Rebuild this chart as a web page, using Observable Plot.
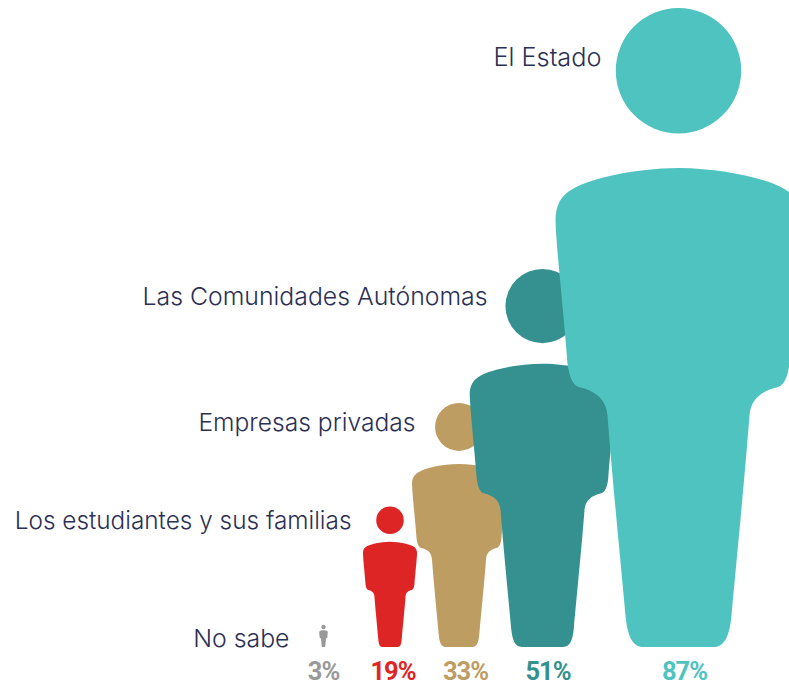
<!DOCTYPE html>
<html><head><meta charset="utf-8">
<script src="https://cdn.jsdelivr.net/npm/d3@7"></script>
<script src="https://cdn.jsdelivr.net/npm/@observablehq/plot@0.6"></script>
<style>html,body{margin:0;padding:0;background:#fff;overflow:hidden}svg{display:block}.pct text{letter-spacing:-1.1px}</style>
</head><body><div id="chart"></div>
<script>
const categories = ["No sabe","Los estudiantes y sus familias","Empresas privadas","Las Comunidades Autónomas","El Estado"];
const values = [3,19,33,51,87];
const colors = ["#999999","#dd2525","#bd9d62","#35918f","#4fc3bf"];

const rows = categories.map((category,i)=>({category,value:values[i],pct:values[i]+"%"}));

// Horizontal placement of each figure, and label offsets from it
const columnCentres = [323,389.5,458.5,542,678];
const labelOffsets = [[-34,14],[-38.5,13.5],[-43.5,18.5],[-55,25],[-77,50]];
const labelSizes = [24.8,24.35,24.6,24.8,25.3];
const pctOffsets = [0,3,6.5,5.5,6];

// Person glyph: unit height, origin at the feet. Half outline, mirrored.
const U = 639, B = 646.5;
const px = (x,y)=>[x/U,(y-B)/U];
const half = [
  [[-45,168],[-88,178],[-105,188]],
  [[-118,195],[-123,205],[-123,220]],
  [[-122,250],[-115,310],[-111,363]],
  [[-109,378],[-105,386],[-98,387]],
  [[-85,390],[-72,398],[-71,415]],
  [[-66,480],[-58,560],[-53,615]],
  [[-51,636],[-46,646.5],[-35,646.5]]
];
const person = {
  draw(ctx,size){
    const h = Math.sqrt(size/Math.PI);
    const P = (x,y)=>{const p=px(x,y);return [p[0]*h,p[1]*h];};
    const r = 62.7/U*h, cy = -(1-62.7/U)*h;
    ctx.moveTo(r,cy); ctx.arc(0,cy,r,0,2*Math.PI); ctx.closePath();
    ctx.moveTo(...P(0,167.5));
    for(const s of half) ctx.bezierCurveTo(...P(...s[0]),...P(...s[1]),...P(...s[2]));
    const pts=[[0,167.5],...half.map(s=>s[2])];
    ctx.lineTo(...P(35,646.5));
    for(let i=half.length-1;i>=0;i--){
      const s=half[i], e=pts[i];
      ctx.bezierCurveTo(...P(-s[1][0],s[1][1]),...P(-s[0][0],s[0][1]),...P(-e[0],e[1]));
    }
    ctx.closePath();
  }
};

const catFont = {fontFamily:"Inter",fontWeight:300,fill:"#2b3054",textAnchor:"end"};

const plot = Plot.plot({
  width:789,height:683,margin:0,
  style:{background:"#fff",overflow:"hidden"},
  x:{type:"linear",domain:values,range:columnCentres,axis:null},
  y:{type:"linear",domain:[0,87],range:[646.5,7.5],axis:null},
  r:{type:"linear",domain:[0,33,51,87],range:[0,244,378,639]},
  color:{domain:categories,range:colors},
  marks:[
    Plot.dot(rows,{x:"value",y:()=>0,r:"value",fill:"category",symbol:person,sort:null}),
    ...rows.map((d,i)=>Plot.text([d],{x:"value",y:"value",text:"category",dx:labelOffsets[i][0],dy:labelOffsets[i][1],fontSize:labelSizes[i],...catFont})),
    ...rows.map((d,i)=>Plot.text([d],{x:"value",y:()=>0,text:"pct",dx:pctOffsets[i],dy:25,fill:"category",fontFamily:"Roboto",fontWeight:700,fontSize:25.5,className:"pct"}))
  ]
});
document.getElementById("chart").appendChild(plot);
</script></body></html>
